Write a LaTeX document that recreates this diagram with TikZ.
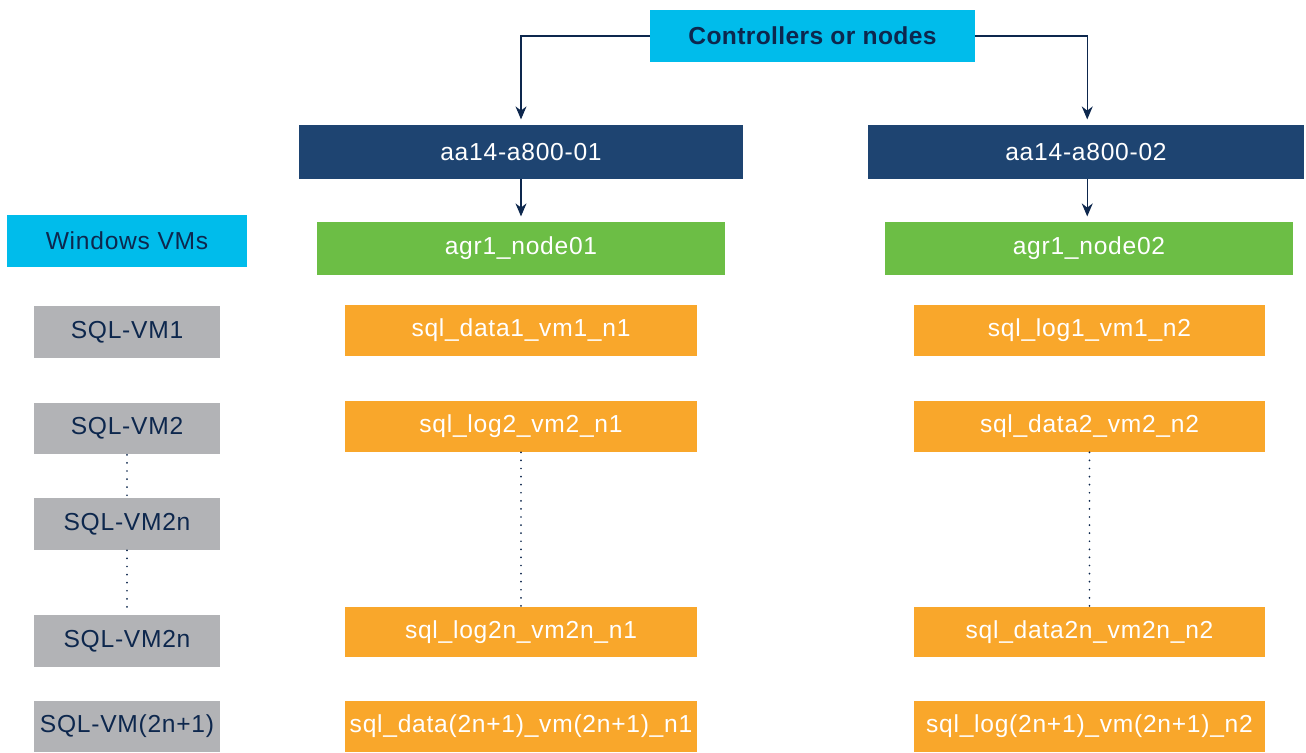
\documentclass[tikz,border=0pt]{standalone}
\usepackage{fontspec}
\setmainfont{Liberation Sans}[LetterSpace=3, BoldFeatures={LetterSpace=1.5}]
\usetikzlibrary{arrows.meta,positioning}
\definecolor{ciscocyan}{HTML}{00BCEB}
\definecolor{cisconavy}{HTML}{1E4471}
\definecolor{inknavy}{HTML}{0D274D}
\definecolor{nodegreen}{HTML}{6CBE45}
\definecolor{volorange}{HTML}{F9A72B}
\definecolor{vmgrey}{HTML}{B2B3B6}
\tikzset{
    layout diagram/.style = {x=0.02cm, y=-0.02cm, >={Stealth[length=2.6mm, width=2.2mm]}},
    box/.style        = {inner sep=0pt, font=\fontsize{14}{16}\selectfont},
    headbox/.style    = {box, fill=ciscocyan, text=inknavy},
    hostbox/.style    = {box, fill=cisconavy, text=white,
                         minimum height=1.08cm},
    aggrbox/.style    = {box, fill=nodegreen, text=white,
                         minimum width=8.16cm, minimum height=1.06cm},
    vmbox/.style      = {box, fill=vmgrey, text=inknavy,
                         minimum width=3.72cm, minimum height=1.04cm},
    volbox/.style     = {box, fill=volorange, text=white,
                         minimum width=7.04cm, minimum height=1.02cm},
    link/.style       = {semithick, draw=inknavy, shorten >=3pt},
    gap/.style        = {line width=1.1pt, draw=inknavy, line cap=round,
                         dash pattern=on 0pt off 4.6pt}
}

\begin{document}
\begin{tikzpicture}[layout diagram]
\useasboundingbox (0,0) rectangle (1306,753);

% Controller header and the two cluster nodes.
\node[headbox, font=\fontsize{14}{16}\selectfont\bfseries,
    minimum width=6.5cm, minimum height=1.04cm] (ctrl) at (812.5,36) {Controllers or nodes};
\node[hostbox, minimum width=8.88cm] (host-1) at (521,152) {aa14-a800-01};
\node[hostbox, minimum width=8.72cm] (host-2) at (1086,152) {aa14-a800-02};
\node[aggrbox] (aggr-1) at (521,248.5) {agr1\_node01};
\node[aggrbox] (aggr-2) at (1089,248.5) {agr1\_node02};
\node[headbox, minimum width=4.8cm, minimum height=1.04cm] (win) at (127,241) {Windows VMs};

\draw[->, link] (ctrl.west) -| (host-1.north);
\draw[->, link] (ctrl.east) -| ([xshift=-1]aggr-2.north |- host-2.north);
\draw[->, link] (host-1.south) -- (aggr-1.north);
\draw[->, link] ([xshift=-1]aggr-2.north |- host-2.south) -- ([xshift=-1]aggr-2.north);

% Windows VMs and their volumes on each aggregate.
\foreach \row/\vy/\ly/\vm/\left/\right in {
    1/332/330.5/{SQL-VM1}/{sql\_data1\_vm1\_n1}/{sql\_log1\_vm1\_n2},
    2/428.5/426.5/{SQL-VM2}/{sql\_log2\_vm2\_n1}/{sql\_data2\_vm2\_n2},
    4/641/632/{SQL-VM2n}/{sql\_log2n\_vm2n\_n1}/{sql\_data2n\_vm2n\_n2},
    5/726.5/726.5/{SQL-VM(2n+1)}/{sql\_data(2n+1)\_vm(2n+1)\_n1}/{sql\_log(2n+1)\_vm(2n+1)\_n2}} {
    \node[vmbox] (vm-\row) at (127,\vy) {\vm};
    \node[volbox] (vol-\row-1) at (521,\ly) {\left};
    \node[volbox] (vol-\row-2) at (1089.5,\ly) {\right};
}
\node[vmbox] (vm-3) at (127,524) {SQL-VM2n};

\draw[gap] (vm-2.south) -- (vm-3.north);
\draw[gap] (vm-3.south) -- (vm-4.north);
\draw[gap] (vol-2-1.south) -- (vol-4-1.north);
\draw[gap] (vol-2-2.south) -- (vol-4-2.north);

\end{tikzpicture}
\end{document}
